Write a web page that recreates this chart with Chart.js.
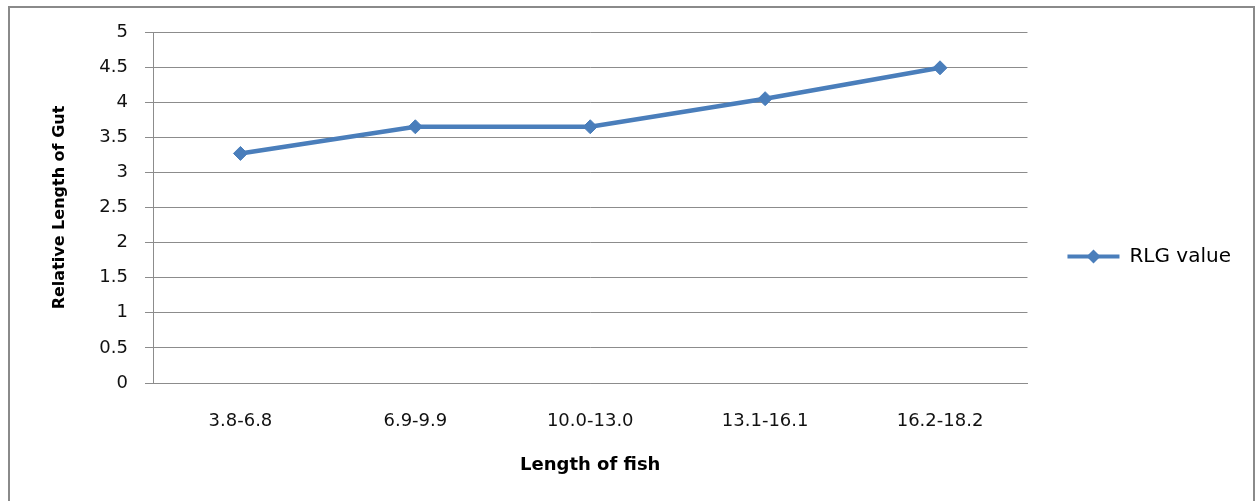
<!DOCTYPE html>
<html>
<head>
<meta charset="utf-8">
<script src="https://cdn.jsdelivr.net/npm/chart.js@4/dist/chart.umd.min.js"></script>
<style>
  html, body { margin: 0; padding: 0; background: #fff; }
  #wrap { position: relative; width: 1259px; height: 501px; overflow: hidden; }
  #frame { position: absolute; left: 8px; top: 6px; width: 1247px; height: 520px; border: 2px solid #8a8a8a; box-sizing: border-box; pointer-events: none; }
  canvas { position: absolute; left: 0; top: 0; }
</style>
</head>
<body>
<div id="wrap">
  <canvas id="chart" width="1259" height="501"></canvas>
  <div id="frame"></div>
</div>
<script>
const categories = ["3.8-6.8", "6.9-9.9", "10.0-13.0", "13.1-16.1", "16.2-18.2"];
const rlgValues = [3.27, 3.65, 3.65, 4.05, 4.49];
const yTickLabels = ["0", "0.5", "1", "1.5", "2", "2.5", "3", "3.5", "4", "4.5", "5"];

const blue = "#4A7EBB";
const gridGray = "#8c8c8c";

// diamond on top of the legend line, like Excel
const legendMarker = {
  id: "legendMarker",
  afterDraw(chart) {
    const box = chart.legend.legendHitBoxes[0];
    if (!box) return;
    const ctx = chart.ctx;
    const cx = box.left + chart.options.plugins.legend.labels.boxWidth / 2;
    const cy = box.top + box.height / 2;
    const r = 7;
    ctx.save();
    ctx.fillStyle = blue;
    ctx.beginPath();
    ctx.moveTo(cx, cy - r);
    ctx.lineTo(cx + r, cy);
    ctx.lineTo(cx, cy + r);
    ctx.lineTo(cx - r, cy);
    ctx.closePath();
    ctx.fill();
    ctx.restore();
  }
};

new Chart(document.getElementById("chart"), {
  type: "line",
  data: {
    labels: categories,
    datasets: [{
      label: "RLG value",
      data: rlgValues,
      borderColor: blue,
      backgroundColor: blue,
      borderWidth: 4.5,
      pointStyle: "rectRot",
      pointRadius: 7,
      pointBackgroundColor: blue,
      pointBorderColor: blue,
      pointBorderWidth: 1,
      tension: 0
    }]
  },
  options: {
    responsive: false,
    animation: false,
    events: [],
    layout: { padding: { top: 32, right: 18, bottom: 20, left: 0 } },
    plugins: {
      tooltip: { enabled: false },
      legend: {
        position: "right",
        labels: {
          boxWidth: 52,
          boxHeight: 4,
          padding: 40,
          color: "#111",
          font: { family: "DejaVu Sans", size: 20 },
          generateLabels(chart) {
            return chart.data.datasets.map((ds, i) => ({
              text: ds.label,
              fillStyle: blue,
              strokeStyle: "rgba(0,0,0,0)",
              lineWidth: 0,
              hidden: false,
              datasetIndex: i
            }));
          }
        }
      }
    },
    scales: {
      x: {
        offset: true,
        grid: { display: true, color: "rgba(0,0,0,0)", drawTicks: false, offset: true },
        border: { display: true, color: gridGray, width: 1 },
        ticks: {
          padding: 28,
          color: "#111",
          font: { family: "DejaVu Sans", size: 18 },
          maxRotation: 0
        },
        title: {
          display: true,
          text: "Length of fish",
          color: "#000",
          font: { family: "DejaVu Sans", size: 18, weight: "bold" },
          padding: { top: 0, bottom: 5 }
        },
        afterFit(scale) { scale.height = 98; }
      },
      y: {
        min: 0,
        max: 5,
        grid: { color: gridGray, lineWidth: 1, tickLength: 8, drawTicks: true },
        border: { display: true, color: gridGray, width: 1 },
        ticks: {
          stepSize: 0.5,
          padding: 17,
          color: "#111",
          font: { family: "DejaVu Sans", size: 18 },
          callback: (v, i) => yTickLabels[i]
        },
        title: {
          display: true,
          text: "Relative Length of Gut",
          color: "#000",
          font: { family: "DejaVu Sans", size: 16, weight: "bold" },
          padding: { top: 50, bottom: 0 }
        },
        afterFit(scale) { scale.width = 153; }
      }
    }
  },
  plugins: [legendMarker]
});
</script>
</body>
</html>
